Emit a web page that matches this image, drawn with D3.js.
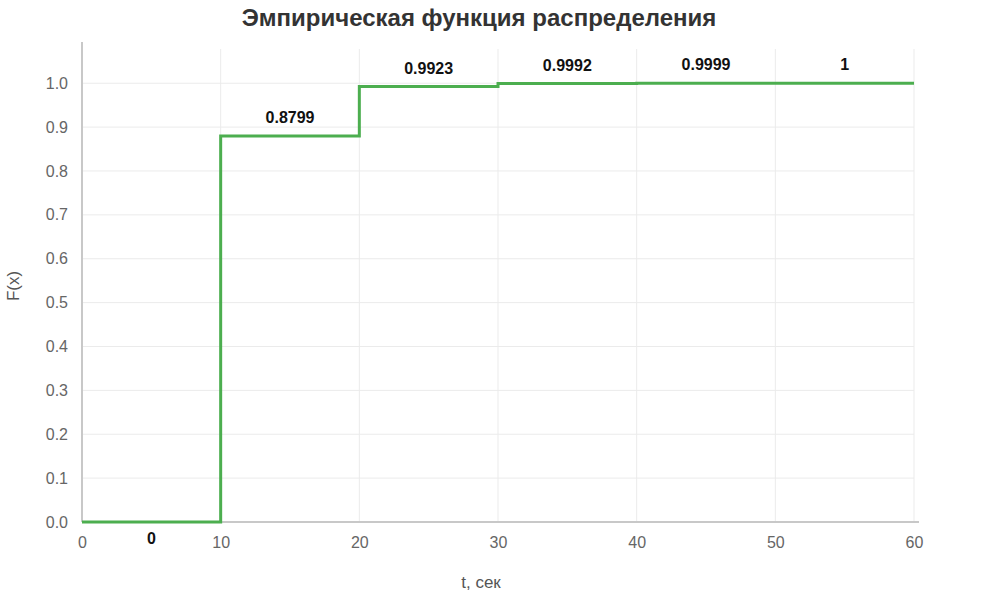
<!DOCTYPE html>
<meta charset="utf-8" />
<script src="https://d3js.org/d3.v7.min.js"></script>
<style>
    body { margin: 0; background: #fff; }
    text { font-family: Arial, 'Liberation Sans', sans-serif; }
</style>
<div id="my_dataviz"></div>

<script>
    // step boundaries (t, sec) and F(x) value on each interval
    const starts = [0, 10, 20, 30, 40, 50]
    const ends = [10, 20, 30, 40, 50, 60]
    const values = [0, 0.8799, 0.9923, 0.9992, 0.9999, 1]
    const labels = ['0', '0.8799', '0.9923', '0.9992', '0.9999', '1']
    const xTicks = [0, 10, 20, 30, 40, 50, 60]
    const yTicks = [0, 0.1, 0.2, 0.3, 0.4, 0.5, 0.6, 0.7, 0.8, 0.9, 1.0]

    const margin = { top: 49, right: 90, bottom: 82, left: 82 },
        width = 1004 - margin.left - margin.right,
        height = 604 - margin.top - margin.bottom

    const root = d3
        .select('#my_dataviz')
        .append('svg')
        .attr('width', 1004)
        .attr('height', 604)

    const svg = root.append('g')
        .attr('transform', `translate(${margin.left},${margin.top})`)

    const x = d3.scaleLinear().domain([0, 60]).range([0, width])
    const y = d3.scaleLinear().domain([0, 1.078]).range([height, 0])

    // grid
    svg.append('g')
        .selectAll('line')
        .data(xTicks.slice(1))
        .join('line')
        .attr('x1', (d) => x(d)).attr('x2', (d) => x(d))
        .attr('y1', 0).attr('y2', height)
        .attr('stroke', '#ebebeb')
    svg.append('g')
        .selectAll('line')
        .data(yTicks.slice(1))
        .join('line')
        .attr('x1', 0).attr('x2', width)
        .attr('y1', (d) => y(d)).attr('y2', (d) => y(d))
        .attr('stroke', '#ebebeb')

    // axes
    const xAxis = svg.append('g')
        .attr('transform', 'translate(0,' + height + ')')
        .call(d3.axisBottom(x).tickValues(xTicks).tickSize(0).tickPadding(15))
    xAxis.select('.domain').attr('stroke', '#c8c8c8').attr('stroke-width', 2)
        .attr('d', `M0,0H${width + 5}`)
    xAxis.selectAll('text').attr('fill', '#666').attr('font-size', '16px')

    const yAxis = svg.append('g')
        .call(d3.axisLeft(y).tickValues(yTicks).tickFormat(d3.format('.1f')).tickSize(0).tickPadding(14))
    yAxis.select('.domain').attr('stroke', '#c8c8c8').attr('stroke-width', 2)
        .attr('d', `M0,${height}V-7`)
    yAxis.selectAll('text').attr('fill', '#666').attr('font-size', '16px')

    // step line
    const pts = []
    values.forEach((v, i) => {
        pts.push([starts[i], v])
        pts.push([ends[i], v])
    })
    svg.append('path')
        .datum(pts)
        .attr('fill', 'none')
        .attr('stroke', '#4cae4f')
        .attr('stroke-width', 3)
        .attr('d', d3.line().x((d) => x(d[0])).y((d) => y(d[1])))

    // value labels
    svg.selectAll('.val')
        .data(values)
        .join('text')
        .attr('class', 'val')
        .attr('x', (d, i) => x((starts[i] + ends[i]) / 2))
        .attr('y', (d, i) => (i === 0 ? y(d) + 22 : y(d) - 13))
        .attr('text-anchor', 'middle')
        .attr('font-size', '16px')
        .attr('font-weight', 'bold')
        .attr('fill', '#111')
        .text((d, i) => labels[i])

    // titles
    root.append('text')
        .attr('x', 479).attr('y', 26)
        .attr('text-anchor', 'middle')
        .attr('font-size', '24px')
        .attr('font-weight', 'bold')
        .attr('fill', '#333')
        .text('Эмпирическая функция распределения')

    root.append('text')
        .attr('x', 481).attr('y', 588)
        .attr('text-anchor', 'middle')
        .attr('font-size', '17px')
        .attr('fill', '#555')
        .text('t, сек')

    root.append('text')
        .attr('transform', 'translate(19,286) rotate(-90)')
        .attr('text-anchor', 'middle')
        .attr('font-size', '17px')
        .attr('fill', '#555')
        .text('F(x)')
</script>
